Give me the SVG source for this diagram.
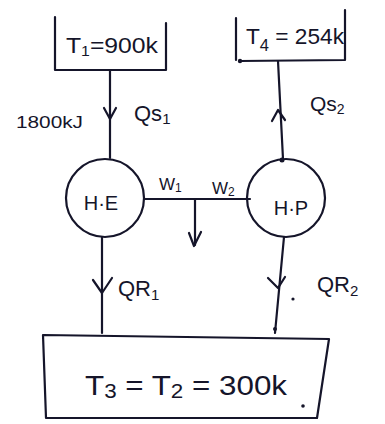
<svg xmlns="http://www.w3.org/2000/svg" width="385" height="424" viewBox="0 0 385 424">
  <style>
    .ink { fill: none; stroke: #15152a; stroke-width: 2.2; stroke-linecap: round; stroke-linejoin: round; }
    .lbl { fill: #15152a; font-family: "Liberation Sans", "DejaVu Sans", sans-serif; }
    .dot { fill: #15152a; }
  </style>
  <rect width="385" height="424" fill="#ffffff"/>

  <!-- hot reservoir T1 -->
  <g id="reservoir-t1">
    <path class="ink" d="M55,17 L55,70 L166,70 L166,23"/>
    <text class="lbl" x="66" y="53" font-size="22" textLength="92" lengthAdjust="spacingAndGlyphs">T<tspan font-size="14" dy="3">1</tspan><tspan dy="-3">=900k</tspan></text>
  </g>

  <!-- cold space T4 -->
  <g id="reservoir-t4">
    <path class="ink" d="M236,18 L236,60 M240,61 L345,60 L345,10"/>
    <circle class="dot" cx="240" cy="61" r="2.2"/>
    <text class="lbl" x="246" y="44" font-size="22" textLength="98" lengthAdjust="spacingAndGlyphs">T<tspan font-size="16" dy="7">4</tspan><tspan dy="-7"> = 254k</tspan></text>
  </g>

  <!-- heat engine -->
  <g id="heat-engine">
    <circle class="ink" cx="105" cy="198" r="39"/>
    <text class="lbl" x="101" y="210" font-size="20" text-anchor="middle">H·E</text>
  </g>

  <!-- heat pump -->
  <g id="heat-pump">
    <circle class="ink" cx="286" cy="198" r="39"/>
    <text class="lbl" x="291" y="215" font-size="20" text-anchor="middle">H·P</text>
  </g>

  <!-- ambient reservoir T3 = T2 -->
  <g id="reservoir-t3">
    <path class="ink" d="M43,335 L329,339 L317,418 L46,418 Z"/>
    <text class="lbl" x="85" y="395" font-size="28" textLength="202" lengthAdjust="spacingAndGlyphs">T<tspan font-size="20" dy="3">3</tspan><tspan dy="-3"> = T</tspan><tspan font-size="20" dy="3">2</tspan><tspan dy="-3"> = 300k</tspan></text>
    <circle class="dot" cx="303" cy="406" r="1.8"/>
  </g>

  <!-- heat and work flows -->
  <g id="connectors">
    <!-- Qs1 into engine -->
    <path class="ink" d="M110,70 L110,158"/>
    <path class="ink" d="M104,108 L110,119 L116,108"/>
    <!-- Qs2 out of pump -->
    <path class="ink" d="M283,159 L278,61"/>
    <path class="ink" d="M272,121 L278,110 L285,120"/>
    <circle class="dot" cx="282" cy="160" r="2.5"/>
    <!-- work shaft -->
    <path class="ink" d="M144,199 L250,199"/>
    <path class="ink" d="M195,199 L195,245"/>
    <path class="ink" d="M189,233 L194,246 L201,232"/>
    <!-- QR1 out of engine -->
    <path class="ink" d="M102,237 L102,333"/>
    <path class="ink" d="M93,280 L102,293 L112,278"/>
    <!-- QR2 into pump -->
    <path class="ink" d="M284,237 L275,333"/>
    <path class="ink" d="M268,278 L278,288 L285,277"/>
    <circle class="dot" cx="293" cy="299" r="1.6"/>
    <circle class="dot" cx="275" cy="329" r="2"/>
  </g>

  <!-- flow labels -->
  <g id="labels">
    <text class="lbl" x="16" y="128" font-size="16" textLength="67" lengthAdjust="spacingAndGlyphs">1800kJ</text>
    <text class="lbl" x="134" y="121" font-size="22">Qs<tspan font-size="15" dy="3">1</tspan></text>
    <text class="lbl" x="310" y="111" font-size="21">Qs<tspan font-size="14" dy="3">2</tspan></text>
    <text class="lbl" x="159" y="190" font-size="17">W<tspan font-size="12" dy="2">1</tspan></text>
    <text class="lbl" x="212" y="194" font-size="17">W<tspan font-size="12" dy="2">2</tspan></text>
    <text class="lbl" x="118" y="296" font-size="22">QR<tspan font-size="15" dy="4">1</tspan></text>
    <text class="lbl" x="317" y="292" font-size="22">QR<tspan font-size="15" dy="4">2</tspan></text>
  </g>
</svg>
